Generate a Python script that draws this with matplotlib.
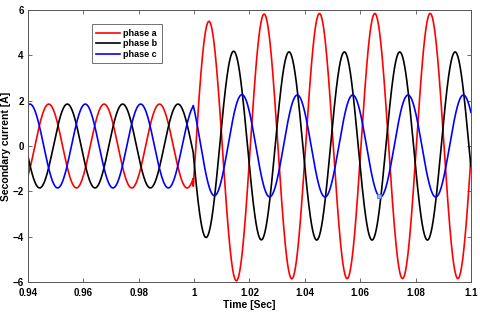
import numpy as np
import matplotlib
matplotlib.use("Agg")
import matplotlib.pyplot as plt

plt.rcParams['font.family'] = ['Liberation Sans', 'DejaVu Sans']

# ---- data ----
phases = ["phase a", "phase b", "phase c"]
colors = ["#ff0000", "#000000", "#0000ff"]
freq_hz = 50.0
fault_time = 0.9997
pre_amp = [1.85, 1.85, 1.85]            # A, before fault
pre_peak_time = [0.9475, 0.9542, 0.9607]  # s, time of a positive peak before fault
post_amp = [5.85, 4.15, 2.25]           # A, after fault
post_peak_time = [1.0253, 1.0343, 1.0373] # s, time of a positive peak after fault
dc_offset = [-0.7, 0.2, 0.15]           # A, decaying offset at the fault instant
dc_tau = 0.008                          # s
t_start, t_end = 0.94, 1.1
datatip_time = 1.0668                   # MATLAB data cursor on phase c

xticks = [0.94, 0.96, 0.98, 1.0, 1.02, 1.04, 1.06, 1.08, 1.1]
xticklabels = ["0.94", "0.96", "0.98", "1", "1.02", "1.04", "1.06", "1.08", "1.1"]
yticks = [-6, -4, -2, 0, 2, 4, 6]


def current(i, t):
    w = 2 * np.pi * freq_hz
    pre = pre_amp[i] * np.cos(w * (t - pre_peak_time[i]))
    post = post_amp[i] * np.cos(w * (t - post_peak_time[i])) + \
        dc_offset[i] * np.exp(-(t - fault_time) / dc_tau)
    return np.where(t < fault_time, pre, post)


t = np.arange(t_start, t_end + 1e-6, 1e-5)

fig = plt.figure(figsize=(4.8, 3.14), dpi=100)
ax = fig.add_axes([0.0583, 0.102, 0.9227, 0.866])

for i, name in enumerate(phases):
    ax.plot(t, current(i, t), color=colors[i], lw=1.2, label=name)

# data tip marker
ax.plot([datatip_time], [current(2, np.array([datatip_time]))[0]], marker='s',
        ms=3.5, mfc='#8fb4e0', mec='#4a7fc0', mew=0.6, ls='none')

ax.set_xlim(t_start, t_end)
ax.set_ylim(-6, 6)
ax.set_xticks(xticks)
ax.set_xticklabels(xticklabels)
ax.set_yticks(yticks)
ax.tick_params(direction='in', length=3, width=0.6, top=True, right=True,
               labelsize=7, color='#555555')
ax.tick_params(axis='x', pad=4)
ax.tick_params(axis='y', pad=3)
for lbl in ax.get_xticklabels() + ax.get_yticklabels():
    lbl.set_fontweight('bold')
for s in ax.spines.values():
    s.set_color('#555555')
    s.set_linewidth(0.7)

ax.set_xlabel("Time [Sec]", fontsize=7.5, fontweight='bold', labelpad=2)
ax.set_ylabel("Secondary current [A]", fontsize=7.5, fontweight='bold', labelpad=1)

leg = ax.legend(loc='upper left', bbox_to_anchor=(0.144, 0.947),
                prop={'weight': 'bold', 'size': 6.5}, frameon=True, fancybox=False,
                edgecolor='#333333', handlelength=2.6, handletextpad=0.4,
                borderpad=0.5, labelspacing=0.15, borderaxespad=0)
leg.get_frame().set_linewidth(0.6)

fig.savefig("out.png", dpi=100)
